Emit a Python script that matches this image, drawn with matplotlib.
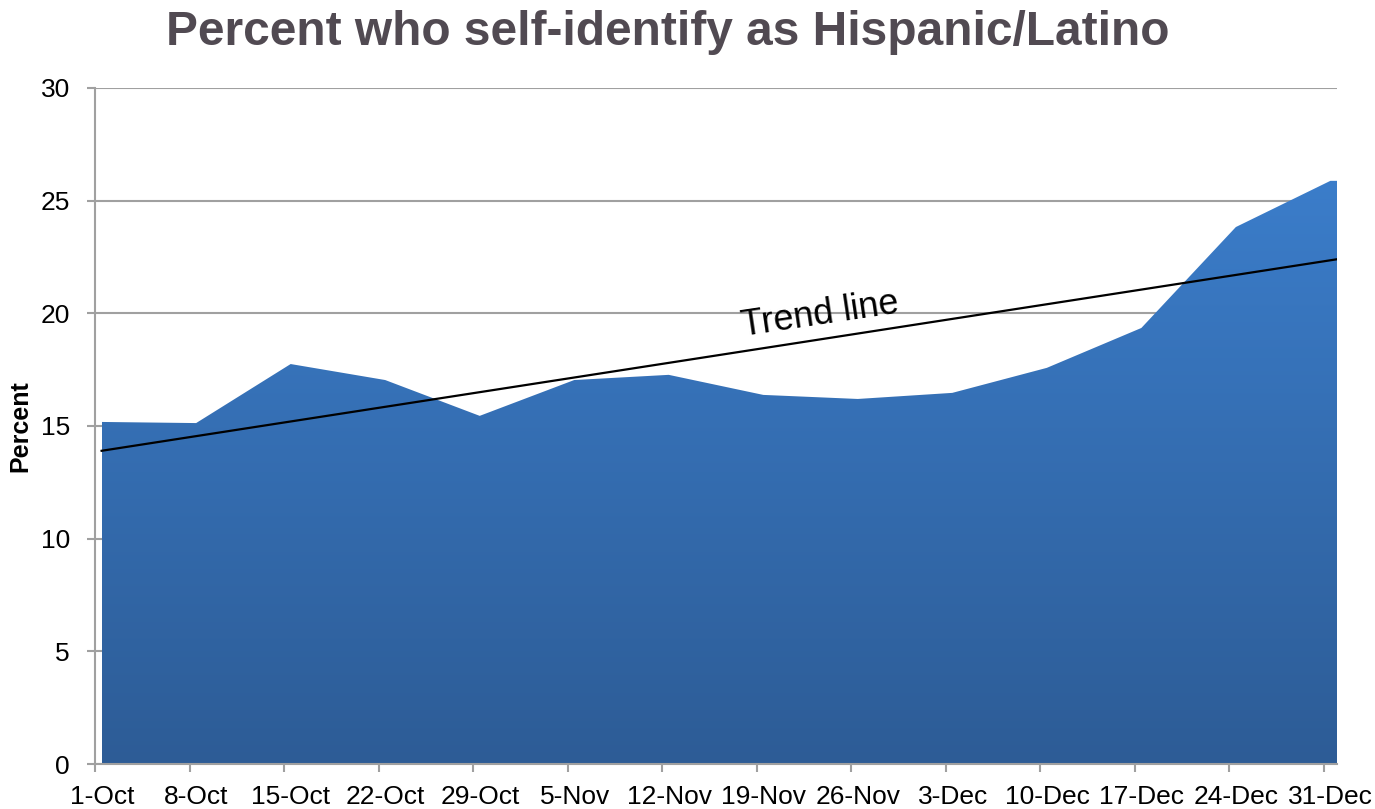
import matplotlib
matplotlib.use("Agg")
import matplotlib.pyplot as plt
from matplotlib.colors import LinearSegmentedColormap
from matplotlib.transforms import ScaledTranslation
import numpy as np

# weekly share of respondents who self-identify as Hispanic/Latino
weeks = ["1-Oct", "8-Oct", "15-Oct", "22-Oct", "29-Oct", "5-Nov", "12-Nov", "19-Nov",
         "26-Nov", "3-Dec", "10-Dec", "17-Dec", "24-Dec", "31-Dec"]
percent = [15.18, 15.13, 17.75, 17.04, 15.45, 17.04, 17.27, 16.38,
           16.2, 16.47, 17.58, 19.35, 23.83, 25.88]
trend_ends = [13.9, 22.4]
yticks = [0, 5, 10, 15, 20, 25, 30]

plt.rcParams['font.family'] = ['Liberation Sans', 'DejaVu Sans']

fig = plt.figure(figsize=(13.75, 8.09), dpi=100)
ax = fig.add_axes([95 / 1375, 1 - 764 / 809, 1242 / 1375, 676 / 809])

x = np.arange(len(weeks)) + 0.07
x_right = len(weeks) - 1 + 0.14
x_fill = np.append(x, x_right + 0.05)
y_fill = np.append(percent, percent[-1])

# area with vertical gradient
poly = ax.fill_between(x_fill, 0, y_fill, color='none', lw=0)
cmap = LinearSegmentedColormap.from_list("blu", ["#2D5C96", "#3B7DCA"])
grad = np.linspace(0, 1, 256).reshape(-1, 1)
im = ax.imshow(grad, extent=[x_fill[0], x_fill[-1], 0, max(percent)], origin='lower',
               aspect='auto', cmap=cmap, zorder=2)
im.set_clip_path(poly.get_paths()[0], transform=ax.transData)

# trend line
ax.plot([x[0], x_right], trend_ends, color='black', lw=1.6, zorder=3)
ax.text(7.67, 19.93, "Trend line", fontsize=26, rotation=8.5, ha='center', va='center',
        rotation_mode='anchor', zorder=4)

ax.set_xlim(0, x_right)
ax.set_ylim(0, 30)
ax.set_yticks(yticks)
ax.set_xticks(np.arange(len(weeks)))
ax.set_xticklabels(weeks)
ax.tick_params(axis='both', labelsize=19, color='#A0A0A0', width=1.5, length=6)
ax.tick_params(axis='x', pad=9)
ax.tick_params(axis='y', pad=12)
# labels sit under the data points, a little right of the ticks
shift = ScaledTranslation(7 / 100, 0, fig.dpi_scale_trans)
for lbl in ax.get_xticklabels():
    lbl.set_transform(lbl.get_transform() + shift)

ax.grid(axis='y', color='#A0A0A0', lw=1.5, zorder=1)
ax.set_axisbelow(True)
for s in ['top', 'right']:
    ax.spines[s].set_visible(False)
for s in ['left', 'bottom']:
    ax.spines[s].set_color('#A0A0A0')
    ax.spines[s].set_linewidth(1.5)

ax.set_ylabel("Percent", fontsize=18, fontweight='bold')
ax.yaxis.set_label_coords(-0.0507, 0.5)

fig.text(0.486, 1 - 45 / 809, "Percent who self-identify as Hispanic/Latino",
         fontsize=34.5, fontweight='bold', color='#514A52', ha='center', va='baseline')

fig.savefig("out.png", dpi=100)
